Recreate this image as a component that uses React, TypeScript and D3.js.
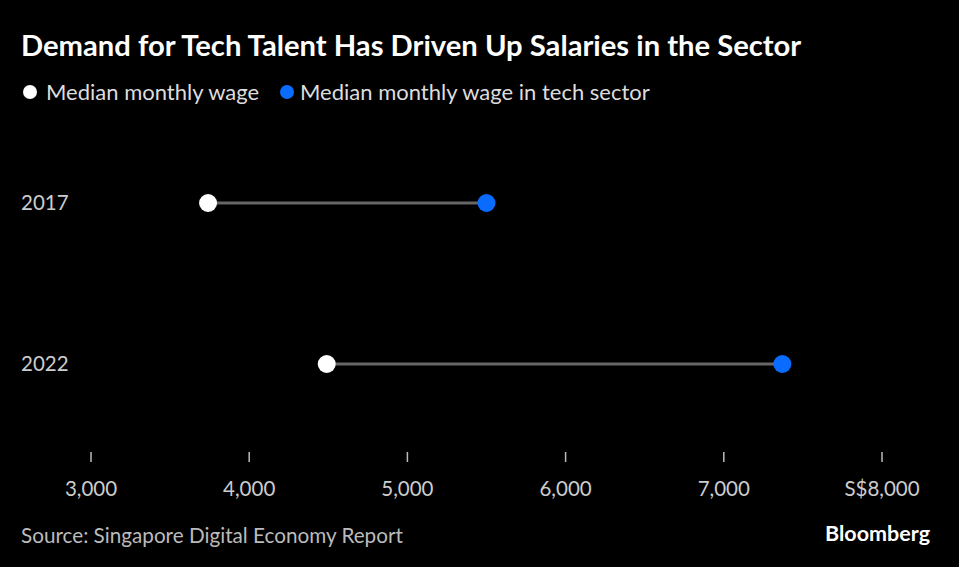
import React from "react";
import * as d3 from "d3";

const years = ["2017", "2022"];
const medianWage = [3740, 4490];
const techWage = [5500, 7370];
const tickValues = [3000, 4000, 5000, 6000, 7000, 8000];
const tickLabels = ["3,000", "4,000", "5,000", "6,000", "7,000", "S$8,000"];

const W = 959;
const H = 567;
const FONT = "Lato, 'Noto Sans', sans-serif";

export default function App() {
  const x = d3.scaleLinear().domain([3000, 8000]).range([91, 882]);
  const y = d3.scalePoint<string>().domain(years).range([203, 364]);

  return (
    <div style={{ position: "absolute", left: 0, top: 0 }}>
      <svg width={W} height={H} style={{ display: "block", background: "#000" }}>
        <rect width={W} height={H} fill="#000" />
        <text x={21} y={56} fill="#fff" fontFamily={FONT} fontWeight={700} fontSize={29.2}>
          Demand for Tech Talent Has Driven Up Salaries in the Sector
        </text>
        <circle cx={30} cy={92} r={7} fill="#fff" />
        <text x={46} y={99.5} fill="#ddd" fontFamily={FONT} fontSize={22}>
          Median monthly wage
        </text>
        <circle cx={287} cy={92} r={7} fill="#0a6cff" />
        <text x={300} y={99.5} fill="#ddd" fontFamily={FONT} fontSize={22}>
          Median monthly wage in tech sector
        </text>

        {years.map((yr, i) => (
          <g key={yr}>
            <text x={21} y={(y(yr) as number) + 7} fill="#ccc" fontFamily={FONT} fontSize={20.5}>
              {yr}
            </text>
            <line
              x1={x(medianWage[i])}
              x2={x(techWage[i])}
              y1={y(yr)}
              y2={y(yr)}
              stroke="#666"
              strokeWidth={3}
            />
            <circle cx={x(medianWage[i])} cy={y(yr)} r={9} fill="#fff" />
            <circle cx={x(techWage[i])} cy={y(yr)} r={9} fill="#0a6cff" />
          </g>
        ))}

        {tickValues.map((v, i) => (
          <g key={v}>
            <line x1={x(v)} x2={x(v)} y1={452} y2={462} stroke="#bbb" strokeWidth={1.5} />
            <text
              x={x(v)}
              y={496}
              textAnchor="middle"
              fill="#ccc"
              fontFamily={FONT}
              fontSize={20.5}
            >
              {tickLabels[i]}
            </text>
          </g>
        ))}

        <text x={21} y={543} fill="#bbb" fontFamily={FONT} fontSize={20.7}>
          Source: Singapore Digital Economy Report
        </text>
        <text x={930} y={541} textAnchor="end" fill="#fff" fontFamily={FONT} fontWeight={700} fontSize={21.5}>
          Bloomberg
        </text>
      </svg>
    </div>
  );
}
